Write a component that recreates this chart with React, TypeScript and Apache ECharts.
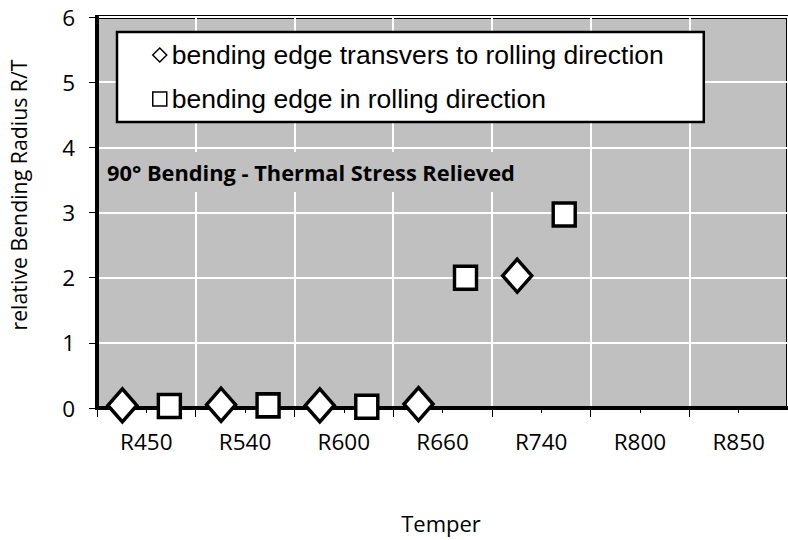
import React, { useEffect, useRef } from "react";
import * as echarts from "echarts";

const categories = ["R450", "R540", "R600", "R660", "R740", "R800", "R850"];
const transversValues = [0.04, 0.05, 0.04, 0.06, 2.03];
const rollingValues = [0.03, 0.04, 0.02, 2.0, 2.97];
const yTicks = [0, 1, 2, 3, 4, 5, 6];
const seriesNames = [
  "bending edge transvers to rolling direction",
  "bending edge in rolling direction",
];
const annotation = "90° Bending - Thermal Stress Relieved";
const yTitle = "relative Bending Radius R/T";
const xTitle = "Temper";

const LABEL_FONT = "Open Sans";

export default function App() {
  const ref = useRef<HTMLDivElement>(null);
  useEffect(() => {
    if (!ref.current) return;
    document.body.style.margin = "0";
    const chart = echarts.init(ref.current, undefined, { renderer: "svg" });
    const option: any = {
      animation: false,
      backgroundColor: "#ffffff",
      grid: {
        left: 97,
        top: 17,
        width: 694,
        height: 391,
        show: true,
        backgroundColor: "#C0C0C0",
        borderColor: "#000",
        borderWidth: 4,
        containLabel: false,
      },
      xAxis: [
        {
          type: "value",
          min: 0,
          max: categories.length,
          interval: 1,
          position: "bottom",
          axisLine: { show: true, onZero: false, lineStyle: { color: "#000", width: 4 } },
          axisTick: { show: true, length: 9, lineStyle: { color: "#000", width: 1 } },
          minorTick: { show: true, splitNumber: 2, length: 5, lineStyle: { color: "#000", width: 1 } },
          axisLabel: { show: false },
          splitLine: { show: true, lineStyle: { color: "#fff", width: 2 } },
        },
        {
          type: "category",
          data: categories,
          position: "bottom",
          boundaryGap: true,
          axisLine: { show: false },
          axisTick: { show: false },
          splitLine: { show: false },
          axisLabel: {
            margin: 22,
            fontFamily: LABEL_FONT,
            fontSize: 22.5,
            color: "#000",
          },
        },
      ],
      yAxis: {
        type: "value",
        min: yTicks[0],
        max: yTicks[yTicks.length - 1],
        interval: 1,
        axisLine: { show: true, onZero: false, lineStyle: { color: "#000", width: 4 } },
        axisTick: { show: true, length: 8, lineStyle: { color: "#000", width: 1 } },
        axisLabel: {
          margin: 22,
          fontFamily: LABEL_FONT,
          fontSize: 22.5,
          color: "#000",
        },
        splitLine: { show: true, lineStyle: { color: "#fff", width: 2 } },
      },
      legend: {
        orient: "vertical",
        left: 117,
        top: 32,
        backgroundColor: "#fff",
        borderColor: "#000",
        borderWidth: 2.5,
        borderRadius: 0,
        padding: [8, 40, 8, 35],
        itemGap: 14,
        itemWidth: 14,
        itemHeight: 14,
        textStyle: {
          fontFamily: "Liberation Sans",
          fontSize: 26.5,
          lineHeight: 30,
          color: "#000",
        },
        data: [
          {
            name: seriesNames[0],
            icon: "diamond",
            itemStyle: { color: "#fff", borderColor: "#000", borderWidth: 1.5 },
          },
          {
            name: seriesNames[1],
            icon: "rect",
            itemStyle: { color: "#fff", borderColor: "#000", borderWidth: 1.5 },
          },
        ],
      },
      series: [
        {
          name: seriesNames[0],
          type: "scatter",
          xAxisIndex: 1,
          yAxisIndex: 0,
          data: transversValues,
          symbol: "diamond",
          symbolSize: [29, 33],
          symbolOffset: [-24, 0],
          itemStyle: { color: "#fff", borderColor: "#000", borderWidth: 3.5, opacity: 1 },
          clip: false,
          z: 5,
        },
        {
          name: seriesNames[1],
          type: "scatter",
          xAxisIndex: 1,
          yAxisIndex: 0,
          data: rollingValues,
          symbol: "rect",
          symbolSize: [22, 23],
          symbolOffset: [23, 0],
          itemStyle: { color: "#fff", borderColor: "#000", borderWidth: 3.5, opacity: 1 },
          clip: false,
          z: 5,
        },
      ],
      graphic: [
        {
          type: "text",
          x: 99,
          y: 172,
          z: 4,
          style: {
            text: annotation,
            fontFamily: LABEL_FONT,
            fontWeight: "bold",
            fontSize: 21.8,
            fill: "#000",
            verticalAlign: "middle",
            align: "left",
            backgroundColor: "#C0C0C0",
            padding: [9, 8, 9, 8],
          },
        },
        {
          type: "text",
          x: 18,
          y: 195,
          rotation: Math.PI / 2,
          style: {
            text: yTitle,
            fontFamily: LABEL_FONT,
            fontSize: 21.3,
            fill: "#000",
            align: "center",
            verticalAlign: "middle",
          },
        },
        {
          type: "text",
          x: 441,
          y: 523,
          style: {
            text: xTitle,
            fontFamily: LABEL_FONT,
            fontSize: 22,
            fill: "#000",
            align: "center",
            verticalAlign: "middle",
          },
        },
      ],
    };
    chart.setOption(option);
    return () => chart.dispose();
  }, []);
  return (
    <div
      ref={ref}
      style={{ position: "absolute", left: 0, top: 0, width: 788, height: 540 }}
    />
  );
}
